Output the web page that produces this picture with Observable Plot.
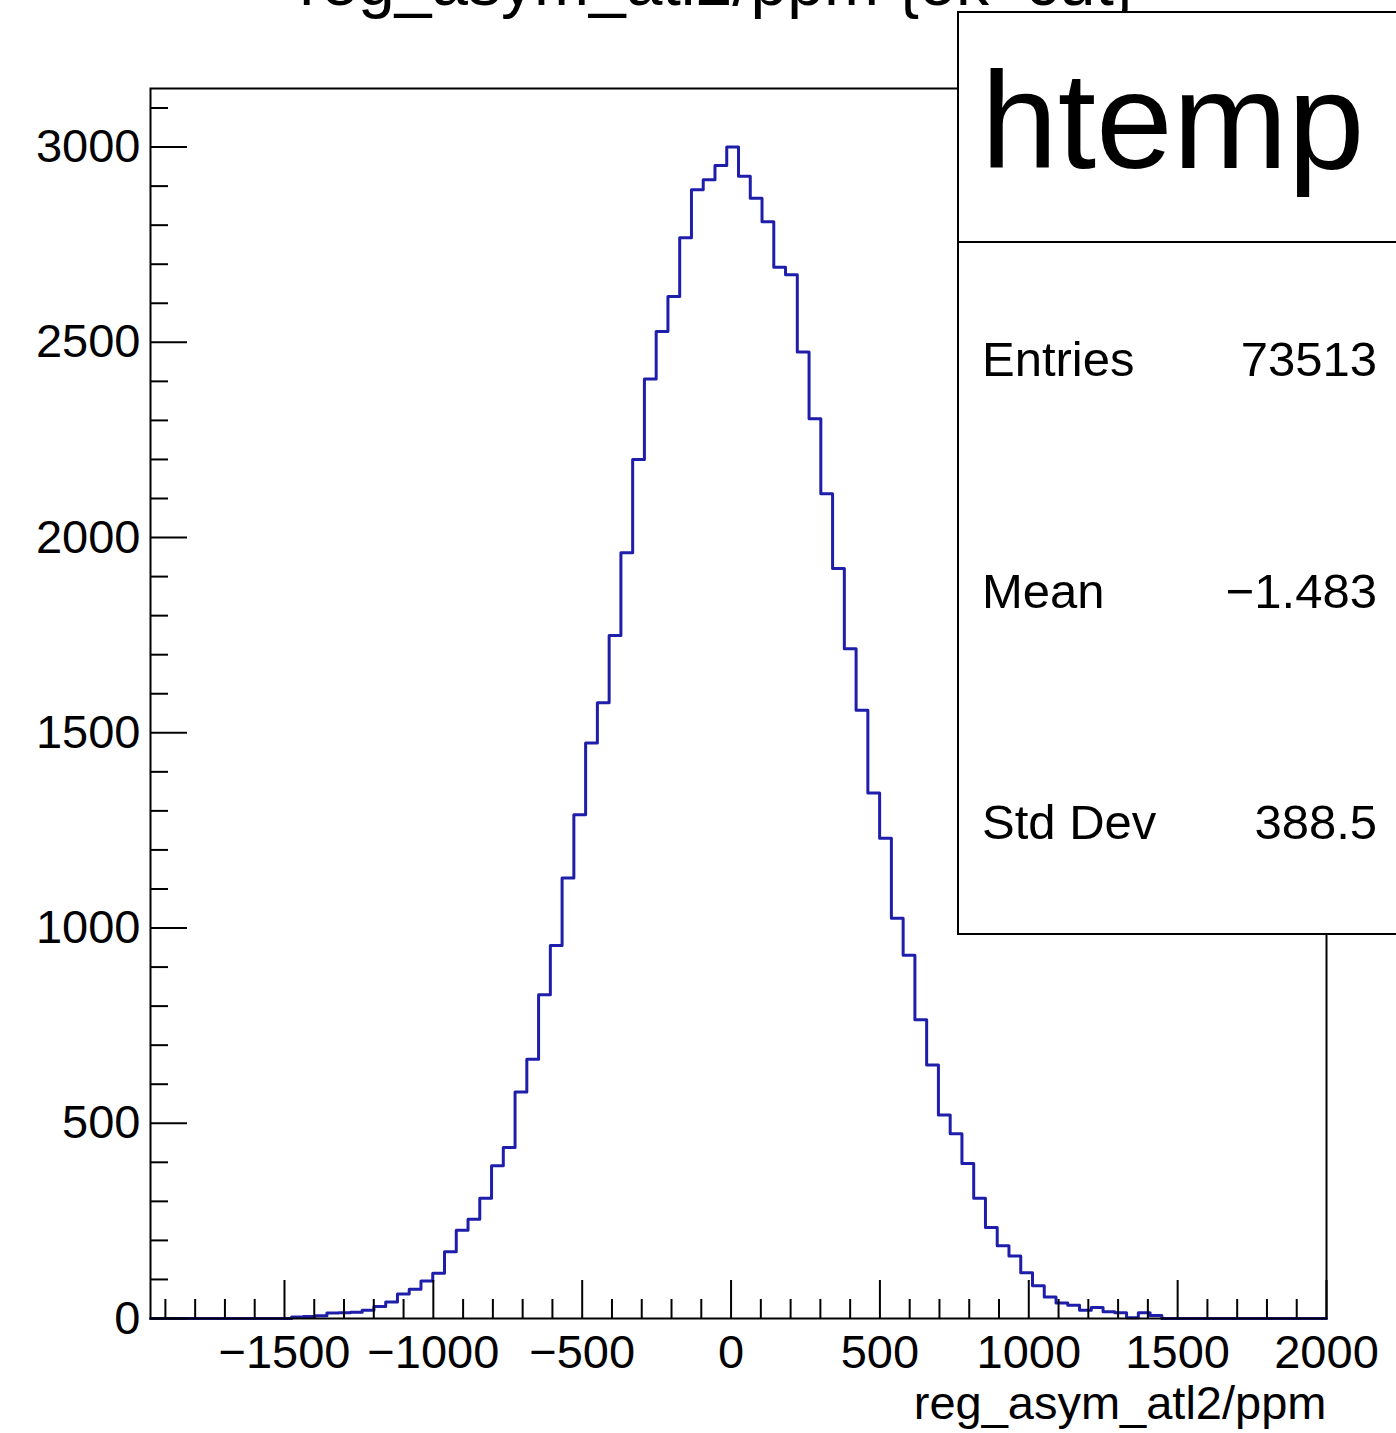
<!DOCTYPE html>
<html>
<head>
<meta charset="utf-8">
<script src="https://cdn.jsdelivr.net/npm/d3@7"></script>
<script src="https://cdn.jsdelivr.net/npm/@observablehq/plot@0.6"></script>
<style>
  html, body { margin: 0; padding: 0; background: #fff; }
  svg { display: block; }
</style>
</head>
<body>
<script>
// ---- data ----
const histTitle = "reg_asym_atl2/ppm {ok_cut}";
const xLabel = "reg_asym_atl2/ppm";
const xMin = -1950;
const xMax = 2000;
const nBins = 100;
const counts = [
  0, 0, 0, 0, 0, 0, 0, 0, 0, 0,
  0, 0, 4, 5, 7, 14, 15, 16, 21, 31,
  42, 63, 75, 96, 116, 171, 226, 254, 308, 391,
  438, 580, 664, 829, 955, 1128, 1290, 1474, 1577, 1749,
  1961, 2200, 2406, 2528, 2617, 2768, 2891, 2916, 2953, 3000,
  2925, 2869, 2809, 2692, 2673, 2475, 2304, 2112, 1921, 1715,
  1558, 1346, 1230, 1025, 930, 765, 649, 521, 473, 397,
  308, 233, 186, 160, 117, 84, 55, 40, 34, 21,
  28, 17, 15, 2, 15, 8, 0, 0, 0, 0,
  0, 0, 0, 0, 0, 0, 0, 0, 0, 0
];
const xMajorTicks = [-1500, -1000, -500, 0, 500, 1000, 1500, 2000];
const xMinorTicks = [-1900,-1800,-1700,-1600,-1400,-1300,-1200,-1100,-900,-800,-700,-600,-400,-300,-200,-100,100,200,300,400,600,700,800,900,1100,1200,1300,1400,1600,1700,1800,1900];
const yMajorTicks = [0, 500, 1000, 1500, 2000, 2500, 3000];
const yMinorTicks = [100,200,300,400,600,700,800,900,1100,1200,1300,1400,1600,1700,1800,1900,2100,2200,2300,2400,2600,2700,2800,2900,3100];
const yMax = 3150;
const statsName = "htemp";
const statsLabels = ["Entries", "Mean", "Std Dev"];
const statsValues = ["73513", "\u22121.483", "388.5"];

// ---- build histogram outline ----
const binWidth = (xMax - xMin) / nBins;
const points = counts.map((c, i) => ({x: xMin + i * binWidth, y: c}));
points.push({x: xMax, y: counts[counts.length - 1]});

const W = 1396, H = 1433;
const mL = 150, mR = 70, mT = 88, mB = 115;
const innerH = H - mT - mB, innerW = W - mL - mR;
const font = "'Liberation Sans', Arial, Helvetica, sans-serif";
const fmt = d3.format("d");

const plot = Plot.plot({
  width: W,
  height: H,
  marginLeft: mL,
  marginRight: mR,
  marginTop: mT,
  marginBottom: mB,
  style: {fontFamily: font, background: "white", color: "black", overflow: "hidden"},
  x: {domain: [xMin, xMax]},
  y: {domain: [0, yMax]},
  marks: [
    Plot.line(points, {x: "x", y: "y", curve: "step-after", stroke: "#1e1eaa", strokeWidth: 3}),
    Plot.tickX(xMajorTicks, {x: d => d, insetTop: innerH - 38, stroke: "black", strokeWidth: 2}),
    Plot.tickX(xMinorTicks, {x: d => d, insetTop: innerH - 19, stroke: "black", strokeWidth: 2}),
    Plot.tickY(yMajorTicks, {y: d => d, insetRight: innerW - 37, stroke: "black", strokeWidth: 2}),
    Plot.tickY(yMinorTicks, {y: d => d, insetRight: innerW - 18, stroke: "black", strokeWidth: 2}),
    Plot.frame({stroke: "black", strokeWidth: 2}),
    Plot.axisX({ticks: xMajorTicks, tickSize: 0, tickPadding: 16, fontSize: 47, tickFormat: fmt, label: null}),
    Plot.axisY({ticks: yMajorTicks, tickSize: 0, tickPadding: 10, fontSize: 47, tickFormat: fmt, label: null}),
    Plot.text([xLabel], {text: d => d, frameAnchor: "bottom-right", textAnchor: "end", lineAnchor: "bottom", dy: 100, fontSize: 47, fill: "black"}),
    Plot.text([histTitle], {text: d => d, frameAnchor: "top", textAnchor: "middle", lineAnchor: "bottom", dy: -84, dx: -21, fontSize: 66, fill: "black"})
  ]
});

document.body.appendChild(plot);

// ---- stats box (legend-like annotation) ----
const svg = d3.select(plot);
const g = svg.append("g").attr("font-family", font).attr("text-anchor", "start");
g.append("rect").attr("x", 958).attr("y", 12).attr("width", 460).attr("height", 922)
  .attr("fill", "white").attr("stroke", "black").attr("stroke-width", 2);
g.append("line").attr("x1", 958).attr("x2", 1420).attr("y1", 242).attr("y2", 242)
  .attr("stroke", "black").attr("stroke-width", 2);
g.append("text").attr("x", 981).attr("y", 168).attr("font-size", 138).attr("text-anchor", "start").attr("fill", "black").text(statsName);
statsLabels.forEach((lab, i) => {
  const y = 376 + i * 231.5;
  g.append("text").attr("x", 982).attr("y", y).attr("font-size", 49).attr("text-anchor", "start").attr("fill", "black").text(lab);
  g.append("text").attr("x", 1377).attr("y", y).attr("font-size", 49).attr("text-anchor", "end").attr("fill", "black").text(statsValues[i]);
});
</script>
</body>
</html>
